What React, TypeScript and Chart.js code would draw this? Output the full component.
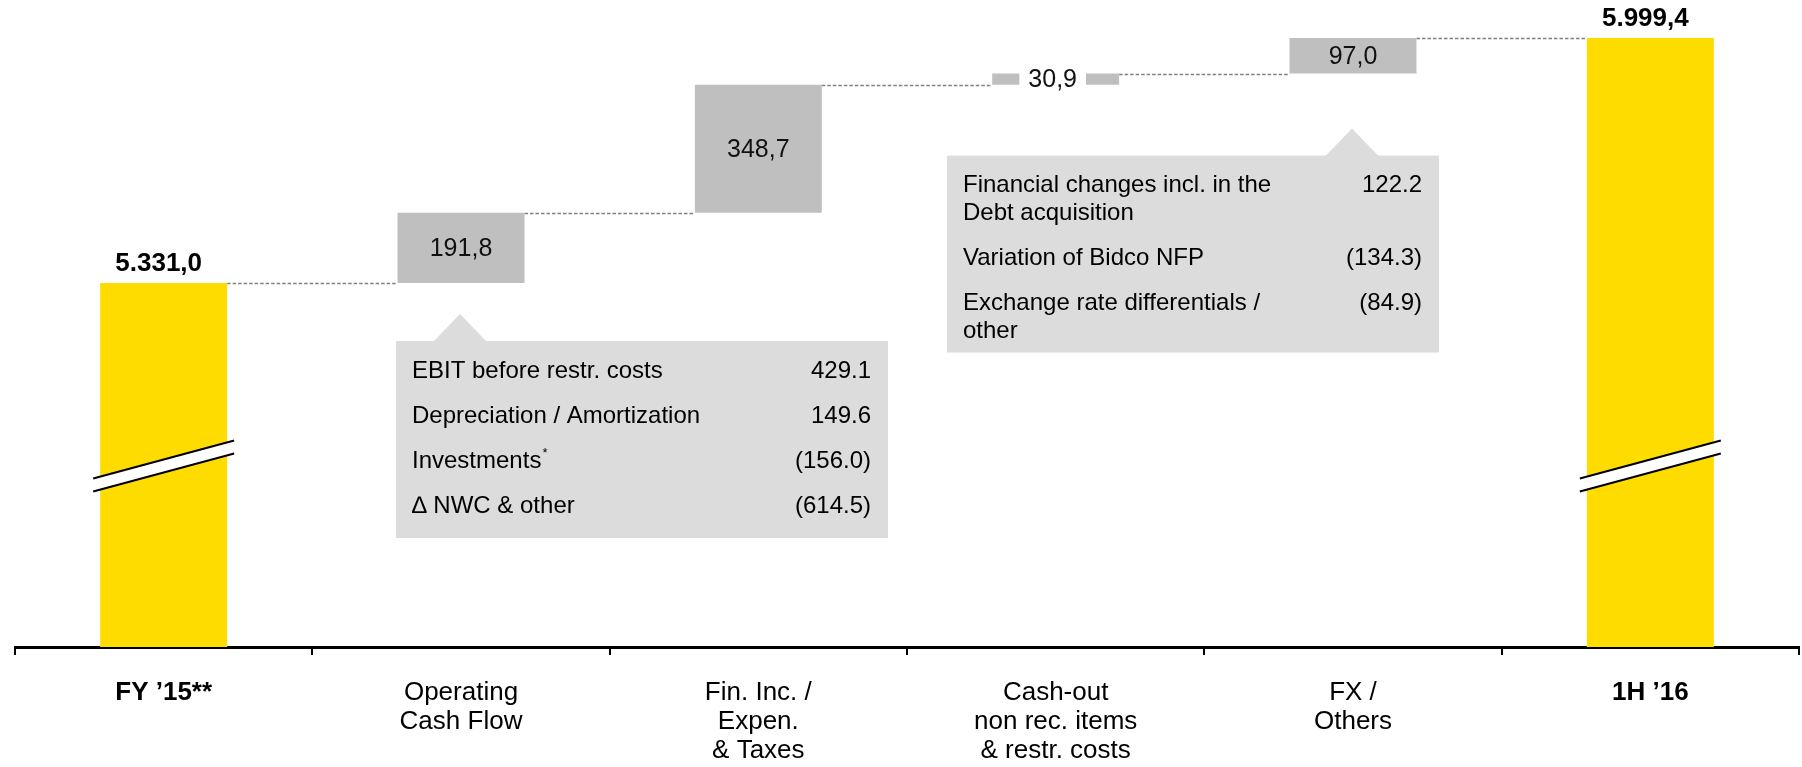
import React, { useEffect, useRef } from "react";
import { Chart, registerables } from "chart.js";

Chart.register(...registerables);

// ---------- data ----------
const CATEGORIES: string[][] = [
  ["FY ’15**"],
  ["Operating", "Cash Flow"],
  ["Fin. Inc. /", "Expen.", "& Taxes"],
  ["Cash-out", "non rec. items", "& restr. costs"],
  ["FX /", "Others"],
  ["1H ’16"],
];
const STEP_VALUES: number[] = [5331.0, 191.8, 348.7, 30.9, 97.0, 5999.4];
const STEP_KINDS: string[] = ["total", "delta", "delta", "delta", "delta", "total"];
const VALUE_LABELS: string[] = ["5.331,0", "191,8", "348,7", "30,9", "97,0", "5.999,4"];

const OCF_ITEMS: string[][] = [
  ["EBIT before restr. costs"],
  ["Depreciation / Amortization"],
  ["Investments"],
  ["∆ NWC & other"],
];
const OCF_SUPERSCRIPTS: string[] = ["", "", "*", ""];
const OCF_VALUES: string[] = ["429.1", "149.6", "(156.0)", "(614.5)"];

const FX_ITEMS: string[][] = [
  ["Financial changes incl. in the", "Debt acquisition"],
  ["Variation of Bidco NFP"],
  ["Exchange rate differentials /", "other"],
];
const FX_SUPERSCRIPTS: string[] = ["", "", ""];
const FX_VALUES: string[] = ["122.2", "(134.3)", "(84.9)"];

// broken value axis
const Y_MIN = 4338;
const Y_MAX = 6103;
const BREAK_VALUE = 4832;

// ---------- derived ----------
const RUNNING_END: number[] = [];
const FLOATING: [number, number][] = (() => {
  let run = 0;
  return STEP_VALUES.map((v, i) => {
    if (STEP_KINDS[i] === "total") {
      run = v;
      RUNNING_END.push(run);
      return [0, v] as [number, number];
    }
    const s = run;
    run = run + v;
    RUNNING_END.push(run);
    return [s, run] as [number, number];
  });
})();

const YELLOW = "#FFDC00";
const GREY = "#BFBFBF";
const BOX = "#DCDCDC";
const FONT = '"Liberation Sans", Arial, Helvetica, sans-serif';
const BOX_W = 492;
const BOX_H = 197;

function drawBox(
  ctx: CanvasRenderingContext2D,
  left: number,
  top: number,
  apexX: number,
  items: string[][],
  sups: string[],
  values: string[]
) {
  ctx.save();
  ctx.fillStyle = BOX;
  ctx.fillRect(left, top, BOX_W, BOX_H);
  ctx.beginPath();
  ctx.moveTo(apexX - 27, top + 1);
  ctx.lineTo(apexX, top - 27);
  ctx.lineTo(apexX + 27, top + 1);
  ctx.closePath();
  ctx.fill();

  ctx.fillStyle = "#000";
  ctx.textBaseline = "middle";
  let ry = top + 30;
  items.forEach((lines, i) => {
    ctx.font = `24px ${FONT}`;
    ctx.textAlign = "left";
    lines.forEach((ln, j) => ctx.fillText(ln, left + 16, ry + j * 28));
    if (sups[i]) {
      const w = ctx.measureText(lines[0]).width;
      ctx.font = `13px ${FONT}`;
      ctx.fillText(sups[i], left + 16 + w + 1, ry - 8);
      ctx.font = `24px ${FONT}`;
    }
    ctx.textAlign = "right";
    ctx.fillText(values[i], left + BOX_W - 17, ry);
    ry += (lines.length - 1) * 28 + 45;
  });
  ctx.restore();
}

const waterfallPlugin = {
  id: "waterfall",
  beforeDatasetsDraw(chart: any) {
    const ctx: CanvasRenderingContext2D = chart.ctx;
    const meta = chart.getDatasetMeta(0);
    const yScale = chart.scales.y;
    ctx.save();
    ctx.strokeStyle = "#808080";
    ctx.lineWidth = 1.6;
    ctx.setLineDash([3.5, 2]);
    for (let i = 0; i < meta.data.length - 1; i++) {
      const a = meta.data[i];
      const b = meta.data[i + 1];
      const py = Math.round(yScale.getPixelForValue(RUNNING_END[i])) + 0.5;
      ctx.beginPath();
      ctx.moveTo(a.x + a.width / 2, py);
      ctx.lineTo(b.x - b.width / 2, py);
      ctx.stroke();
    }
    ctx.restore();
  },
  afterDatasetsDraw(chart: any) {
    const ctx: CanvasRenderingContext2D = chart.ctx;
    const meta = chart.getDatasetMeta(0);
    const yScale = chart.scales.y;

    // axis-break markers on the total bars
    const by = yScale.getPixelForValue(BREAK_VALUE);
    meta.data.forEach((bar: any, i: number) => {
      if (STEP_KINDS[i] !== "total") return;
      const cx = bar.x;
      const half = bar.width / 2 + 7;
      const rise = 19;
      const gap = 6.5;
      ctx.save();
      ctx.fillStyle = "#fff";
      ctx.beginPath();
      ctx.moveTo(cx - half, by - gap + rise);
      ctx.lineTo(cx + half, by - gap - rise);
      ctx.lineTo(cx + half, by + gap - rise);
      ctx.lineTo(cx - half, by + gap + rise);
      ctx.closePath();
      ctx.fill();
      ctx.strokeStyle = "#000";
      ctx.lineWidth = 2;
      ctx.beginPath();
      ctx.moveTo(cx - half, by - gap + rise);
      ctx.lineTo(cx + half, by - gap - rise);
      ctx.moveTo(cx - half, by + gap + rise);
      ctx.lineTo(cx + half, by + gap - rise);
      ctx.stroke();
      ctx.restore();
    });

    // value labels
    ctx.save();
    ctx.textAlign = "center";
    ctx.textBaseline = "middle";
    meta.data.forEach((bar: any, i: number) => {
      if (STEP_KINDS[i] === "total") {
        ctx.font = `bold 26px ${FONT}`;
        ctx.fillStyle = "#000";
        ctx.fillText(VALUE_LABELS[i], bar.x - 5, bar.y - 19);
      } else {
        ctx.font = `25px ${FONT}`;
        const cy = (bar.y + bar.base) / 2;
        const h = Math.abs(bar.base - bar.y);
        const small = h < 24;
        const lx = small ? bar.x - 3 : bar.x;
        if (small) {
          const w = ctx.measureText(VALUE_LABELS[i]).width + 18;
          ctx.fillStyle = "#fff";
          ctx.fillRect(lx - w / 2, cy - h / 2 - 2, w, h + 4);
        }
        ctx.fillStyle = "#111";
        ctx.fillText(VALUE_LABELS[i], lx, cy + 1);
      }
    });
    ctx.restore();

    // breakdown boxes
    const ocf = meta.data[1];
    drawBox(ctx, ocf.x - 65, ocf.base + 58, ocf.x - 1, OCF_ITEMS, OCF_SUPERSCRIPTS, OCF_VALUES);
    const fx = meta.data[4];
    drawBox(ctx, fx.x + 86 - BOX_W, fx.base + 82, fx.x - 1, FX_ITEMS, FX_SUPERSCRIPTS, FX_VALUES);
  },
};

export default function App() {
  const ref = useRef<HTMLCanvasElement>(null);
  useEffect(() => {
    const canvas = ref.current;
    if (!canvas) return;
    const chart = new Chart(canvas, {
      type: "bar",
      data: {
        labels: CATEGORIES as any,
        datasets: [
          {
            data: FLOATING as any,
            backgroundColor: STEP_KINDS.map((k) => (k === "total" ? YELLOW : GREY)),
            borderWidth: 0,
            barPercentage: 0.427,
            categoryPercentage: 1,
            clip: 0 as any,
          },
        ],
      },
      options: {
        responsive: false,
        animation: false,
        devicePixelRatio: 1,
        layout: { padding: { left: 15, right: 3, top: 0, bottom: 0 } },
        plugins: { legend: { display: false }, tooltip: { enabled: false } },
        scales: {
          x: {
            z: 1,
            offset: true,
            grid: {
              display: true,
              drawOnChartArea: false,
              drawTicks: true,
              tickLength: 8,
              color: "#000",
              lineWidth: 2,
              offset: true,
            },
            border: { display: true, color: "#000", width: 3 },
            ticks: {
              color: "#000",
              padding: 23,
              maxRotation: 0,
              minRotation: 0,
              autoSkip: false,
              font: (c: any) => ({
                family: FONT,
                size: 26,
                lineHeight: "29px",
                weight: c.index === 0 || c.index === 5 ? "bold" : "normal",
              }),
            },
            afterFit: (s: any) => {
              s.height -= 21;
            },
          } as any,
          y: { display: false, min: Y_MIN, max: Y_MAX },
        },
      },
      plugins: [waterfallPlugin],
    });
    return () => chart.destroy();
  }, []);
  return (
    <div style={{ position: "fixed", left: 0, top: 0, width: 1802, height: 767, background: "#fff" }}>
      <canvas ref={ref} width={1802} height={767} style={{ display: "block", width: 1802, height: 767 }} />
    </div>
  );
}
